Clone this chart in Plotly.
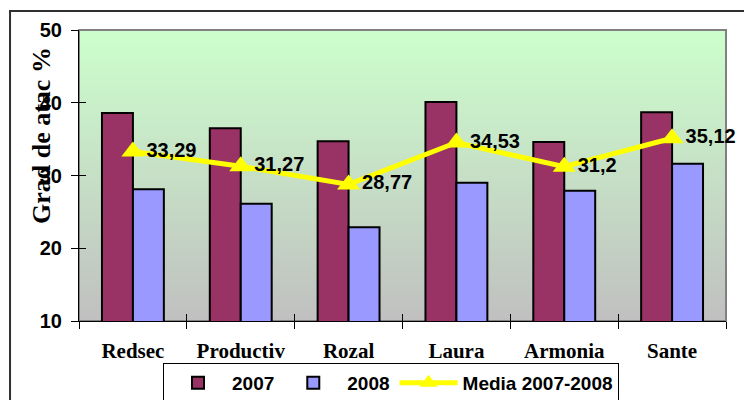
import plotly.graph_objects as go

categories = ["Redsec", "Productiv", "Rozal", "Laura", "Armonia", "Sante"]
values_2007 = [38.6, 36.5, 34.7, 40.1, 34.6, 38.7]
values_2008 = [28.1, 26.1, 22.9, 29.0, 27.9, 31.6]
media = [33.29, 31.27, 28.77, 34.53, 31.2, 35.12]
media_labels = [f"{v:g}".replace(".", ",") for v in media]
y_ticks = [10, 20, 30, 40, 50]

SANS = "Liberation Sans, Arial, sans-serif"
SERIF = "Liberation Serif, Times New Roman, serif"

fig = go.Figure()
fig.add_trace(go.Bar(
    x=categories, y=values_2007, name="2007",
    marker=dict(color="#993366", line=dict(color="black", width=2)),
))
fig.add_trace(go.Bar(
    x=categories, y=values_2008, name="2008",
    marker=dict(color="#9999FF", line=dict(color="black", width=2)),
))
fig.add_trace(go.Scatter(
    x=categories, y=media, name="Media 2007-2008",
    mode="lines+markers+text", cliponaxis=False,
    line=dict(color="#FFFF00", width=5),
    marker=dict(symbol="triangle-up", size=20, color="#FFFF00"),
    text=media_labels, textposition="middle right",
    textfont=dict(family=SANS, size=20, color="black", weight="bold"),
))
# invisible helper trace for the overlay axes (cross tick marks)
fig.add_trace(go.Scatter(
    x=categories, y=media, xaxis="x2", yaxis="y2", mode="markers",
    marker=dict(opacity=0), showlegend=False, hoverinfo="skip",
))

# gradient background of plot area
n = 100
top = (204, 255, 204)
bot = (192, 192, 192)
shapes = []
for i in range(n):
    t = i / (n - 1)
    c = tuple(round(bot[k] + (top[k] - bot[k]) * t) for k in range(3))
    shapes.append(dict(
        type="rect", xref="x domain", yref="y domain",
        x0=0, x1=1, y0=i / n, y1=min(1, (i + 1.5) / n),
        fillcolor=f"rgb{c}", line=dict(width=0), layer="below",
    ))
# plot area border (gray)
shapes.append(dict(type="rect", xref="x domain", yref="y domain",
                   x0=0, x1=1, y0=0, y1=1,
                   line=dict(color="#808080", width=2), layer="below"))
# outer chart border
shapes.append(dict(type="rect", xref="paper", yref="paper",
                   x0=-0.1066, x1=1.06, y0=-0.32, y1=1.065,
                   line=dict(color="#303030", width=2)))

fig.update_layout(
    width=744, height=400,
    margin=dict(l=79, r=18, t=30, b=79),
    paper_bgcolor="white", plot_bgcolor="#C0C0C0",
    barmode="group", bargap=0.426, bargroupgap=0,
    shapes=shapes,
    showlegend=True,
    legend=dict(
        orientation="h", xref="container", yref="container",
        x=163 / 744, y=1 - 363 / 400, xanchor="left", yanchor="top",
        bgcolor="white", bordercolor="black", borderwidth=1,
        font=dict(family=SANS, size=19, color="black", weight="bold"),
        itemwidth=58,
    ),
    xaxis=dict(
        type="category", tickson="boundaries", ticks="outside", ticklen=7,
        tickcolor="black", showline=True, linecolor="black", linewidth=1,
        showgrid=False, automargin=False, ticklabelstandoff=11,
        tickfont=dict(family=SERIF, size=21, color="black", weight="bold"),
    ),
    xaxis2=dict(
        type="category", overlaying="x", matches="x", tickson="boundaries",
        ticks="inside", ticklen=7, tickcolor="black", showticklabels=False,
        showgrid=False, showline=False,
    ),
    yaxis=dict(
        range=[10, 50], tickvals=y_ticks, ticks="outside", ticklen=7,
        tickcolor="black", showline=True, linecolor="black", linewidth=1,
        showgrid=False, zeroline=False, automargin=False, ticklabelstandoff=5,
        tickfont=dict(family=SANS, size=20, color="black", weight="bold"),
    ),
    yaxis2=dict(
        overlaying="y", matches="y", tickvals=y_ticks, ticks="inside",
        ticklen=7, tickcolor="black", showticklabels=False, showgrid=False,
        showline=False, zeroline=False,
    ),
    annotations=[dict(
        text="Grad de atac %", textangle=-90, xref="paper", yref="paper",
        x=-0.057, y=0.636, xanchor="center", yanchor="middle", showarrow=False,
        font=dict(family=SERIF, size=26, color="black", weight="bold"),
    )],
)

fig.write_html(
    "out.html",
    config={"displayModeBar": False},
    post_script="document.body.style.margin='0';document.body.style.overflow='hidden';",
)
